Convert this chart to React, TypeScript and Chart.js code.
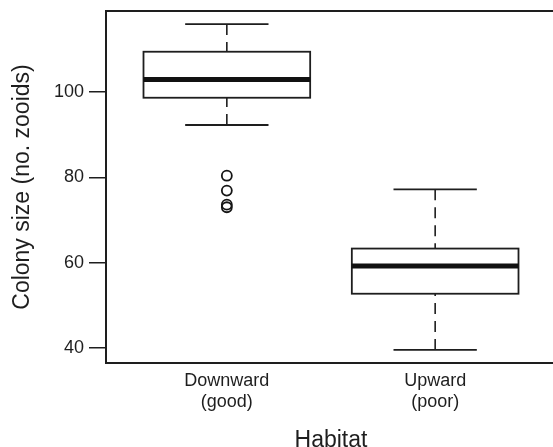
import React, { useEffect, useRef } from "react";
import { Chart, registerables } from "chart.js";

Chart.register(...registerables);

// ---- data ----
const categories: string[][] = [
  ["Downward", "(good)"],
  ["Upward", "(poor)"],
];
const whiskerLow = [92.3, 39.5];
const q1 = [98.7, 52.7];
const median = [103.0, 59.2];
const q3 = [109.5, 63.3];
const whiskerHigh = [116.0, 77.2];
const outliersDownward = [80.4, 76.9, 73.6, 73.0];
const outliersUpward: number[] = [];
const yTicks = [40, 60, 80, 100];
const yTitle = "Colony size (no. zooids)";
const xTitle = "Habitat";

const FONT = "'Liberation Sans', Arial, Helvetica, sans-serif";
const INK = "#1e1e1e";

const boxPlugin = {
  id: "boxplot",
  beforeDatasetsDraw(chart: any) {
    const { ctx, scales } = chart;
    const xs = scales.x;
    const ys = scales.y;
    ctx.save();
    categories.forEach((_, i) => {
      const cx = xs.getPixelForValue(i + 1);
      const bl = xs.getPixelForValue(i + 1 - 0.4);
      const br = xs.getPixelForValue(i + 1 + 0.4);
      const cl = xs.getPixelForValue(i + 1 - 0.2);
      const cr = xs.getPixelForValue(i + 1 + 0.2);
      const yLo = ys.getPixelForValue(whiskerLow[i]);
      const yQ1 = ys.getPixelForValue(q1[i]);
      const yMed = ys.getPixelForValue(median[i]);
      const yQ3 = ys.getPixelForValue(q3[i]);
      const yHi = ys.getPixelForValue(whiskerHigh[i]);
      ctx.strokeStyle = INK;
      // whiskers (dashed), drawn from whisker end toward the box
      ctx.lineWidth = 1.6;
      ctx.setLineDash([11, 7]);
      ctx.beginPath();
      ctx.moveTo(cx, yHi);
      ctx.lineTo(cx, yQ3);
      ctx.moveTo(cx, yLo);
      ctx.lineTo(cx, yQ1);
      ctx.stroke();
      ctx.setLineDash([]);
      // caps
      ctx.lineWidth = 1.8;
      ctx.beginPath();
      ctx.moveTo(cl, yHi);
      ctx.lineTo(cr, yHi);
      ctx.moveTo(cl, yLo);
      ctx.lineTo(cr, yLo);
      ctx.stroke();
      // box
      ctx.fillStyle = "#ffffff";
      ctx.fillRect(bl, yQ3, br - bl, yQ1 - yQ3);
      ctx.lineWidth = 1.8;
      ctx.strokeRect(bl, yQ3, br - bl, yQ1 - yQ3);
      // median
      ctx.strokeStyle = "#111111";
      ctx.lineWidth = 5;
      ctx.beginPath();
      ctx.moveTo(bl, yMed);
      ctx.lineTo(br, yMed);
      ctx.stroke();
    });
    ctx.restore();
  },
  afterDraw(chart: any) {
    const { ctx, chartArea } = chart;
    ctx.save();
    ctx.strokeStyle = INK;
    ctx.lineWidth = 2;
    ctx.strokeRect(
      chartArea.left,
      chartArea.top,
      chartArea.right - chartArea.left,
      chartArea.bottom - chartArea.top
    );
    ctx.restore();
  },
};

function zeroPad(s: any) {
  s.paddingTop = 0;
  s.paddingBottom = 0;
  s.paddingLeft = 0;
  s.paddingRight = 0;
}

export default function App() {
  const ref = useRef<HTMLCanvasElement | null>(null);

  useEffect(() => {
    if (!ref.current) return;
    const outlierPoints = [
      ...outliersDownward.map((y) => ({ x: 1, y })),
      ...outliersUpward.map((y) => ({ x: 2, y })),
    ];
    const chart = new Chart(ref.current, {
      type: "scatter",
      data: {
        datasets: [
          {
            label: "outliers",
            data: outlierPoints,
            pointRadius: 5,
            pointBorderWidth: 1.8,
            pointBorderColor: "#151515",
            pointBackgroundColor: "rgba(0,0,0,0)",
            pointHoverRadius: 5,
          },
        ],
      },
      options: {
        responsive: false,
        animation: false,
        devicePixelRatio: 1,
        layout: {
          autoPadding: false,
          padding: { top: 11, right: 4, left: 0, bottom: 0 },
        },
        plugins: {
          legend: { display: false },
          tooltip: { enabled: false },
        },
        scales: {
          x: {
            type: "linear",
            min: 0.42,
            max: 2.58,
            afterBuildTicks: (s: any) => {
              s.ticks = categories.map((_, i) => ({ value: i + 1 }));
            },
            afterFit: (s: any) => {
              s.height = 91;
              zeroPad(s);
            },
            grid: { display: false, drawTicks: false },
            border: { display: false },
            ticks: {
              padding: 7,
              maxRotation: 0,
              autoSkip: false,
              color: INK,
              font: { family: FONT, size: 18, lineHeight: 1.2 },
              callback: (v: any) => categories[Number(v) - 1],
            },
            title: {
              display: true,
              text: xTitle,
              color: INK,
              font: { family: FONT, size: 23, lineHeight: 1.2 },
              padding: { top: 0, bottom: 0 },
            },
          },
          y: {
            type: "linear",
            min: 36.44,
            max: 119.06,
            afterBuildTicks: (s: any) => {
              s.ticks = yTicks.map((v) => ({ value: v }));
            },
            afterFit: (s: any) => {
              s.width = 106;
              zeroPad(s);
            },
            grid: {
              drawOnChartArea: false,
              drawTicks: true,
              tickLength: 17,
              color: INK,
              lineWidth: 1.5,
            },
            border: { display: false },
            ticks: {
              padding: 5,
              color: INK,
              font: { family: FONT, size: 18 },
              callback: (v: any) => String(v),
            },
            title: {
              display: true,
              text: yTitle,
              color: INK,
              font: { family: FONT, size: 23, lineHeight: 1.2 },
              padding: { top: 9, bottom: 0 },
            },
          },
        },
      },
      plugins: [boxPlugin],
    });
    return () => chart.destroy();
  }, []);

  return (
    <div
      style={{
        position: "absolute",
        left: 0,
        top: 0,
        width: 553,
        height: 447,
        overflow: "hidden",
        background: "#ffffff",
      }}
    >
      <canvas
        ref={ref}
        width={560}
        height={454}
        style={{ display: "block", width: 560, height: 454 }}
      />
    </div>
  );
}
